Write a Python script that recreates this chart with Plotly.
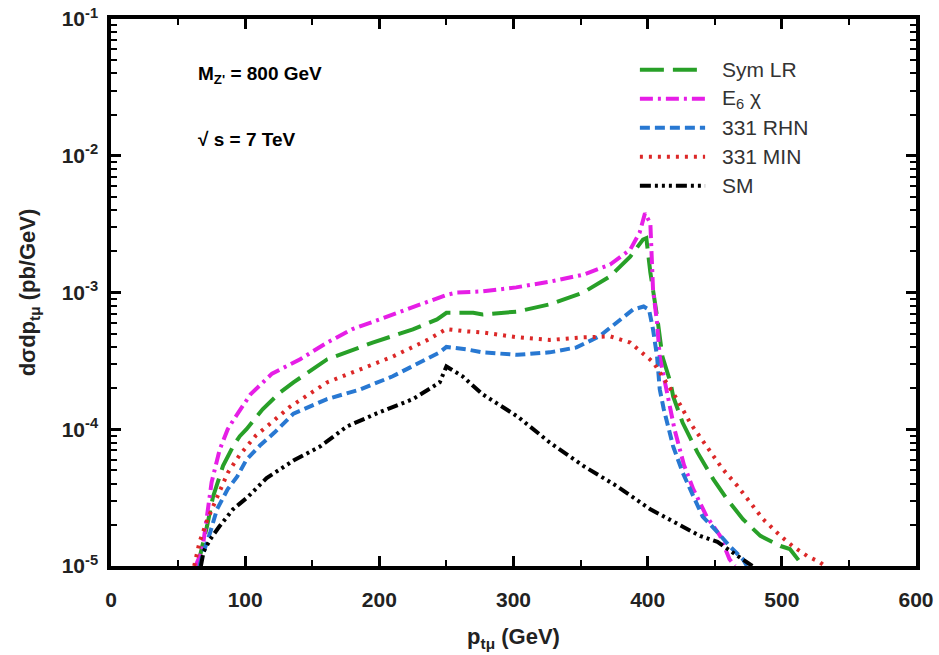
import plotly.graph_objects as go

# ---- data ----
e6_x = [63, 68, 72, 75, 81, 87, 92, 104, 120, 141, 161, 180, 200, 220, 240, 250, 258, 277, 302, 327, 352, 372, 387, 394, 398, 402, 404, 407, 409, 414, 420, 427, 434, 444, 454, 461, 465]
e6_y = [1e-5, 1.3e-5, 2.5e-5, 4.1e-5, 7.1e-5, 1.0e-4, 1.2e-4, 1.8e-4, 2.55e-4, 3.25e-4, 4.3e-4, 5.4e-4, 6.35e-4, 7.5e-4, 8.9e-4, 9.6e-4, 1.0e-3, 1.02e-3, 1.09e-3, 1.2e-3, 1.35e-3, 1.6e-3, 2.06e-3, 2.74e-3, 3.8e-3, 3.2e-3, 1.05e-3, 6.0e-4, 3.4e-4, 1.96e-4, 1.0e-4, 5.5e-5, 3.65e-5, 2.3e-5, 1.66e-5, 1.12e-5, 1e-5]

lr_x = [65, 66.3, 71.6, 76, 83.5, 91, 96, 101, 113, 126, 136, 161, 195, 225, 243, 250, 270, 277, 303, 327, 352, 372, 387, 396.5, 399, 402, 407, 411, 417, 419, 426, 437, 449, 459, 471, 484, 499, 506, 513.5, 516]
lr_y = [1e-5, 1.18e-5, 1.96e-5, 3.2e-5, 5.4e-5, 7.5e-5, 8.9e-5, 1.0e-4, 1.4e-4, 1.86e-4, 2.2e-4, 3.24e-4, 4.3e-4, 5.37e-4, 6.35e-4, 7.1e-4, 7.1e-4, 6.9e-4, 7.26e-4, 8.2e-4, 1.0e-3, 1.31e-3, 1.83e-3, 2.44e-3, 2.5e-3, 1.4e-3, 6.7e-4, 3.4e-4, 2.2e-4, 1.74e-4, 1.12e-4, 6.8e-5, 4.3e-5, 3.1e-5, 2.2e-5, 1.66e-5, 1.4e-5, 1.33e-5, 1.07e-5, 1e-5]

rhn_x = [66, 68, 74, 79, 87, 94, 101, 111, 122, 136, 161, 186, 210, 230, 245, 250, 265, 277, 303, 327, 347, 364, 377, 389, 397, 401, 404, 407, 409, 412, 419, 426, 434, 441, 452, 461, 471, 474]
rhn_y = [1e-5, 1.18e-5, 1.77e-5, 2.6e-5, 3.65e-5, 4.5e-5, 6.0e-5, 7.6e-5, 9.5e-5, 1.3e-4, 1.66e-4, 1.96e-4, 2.44e-4, 3.1e-4, 3.65e-4, 4.0e-4, 3.84e-4, 3.65e-4, 3.5e-4, 3.65e-4, 3.97e-4, 4.78e-4, 6.0e-4, 7.5e-4, 7.9e-4, 7.5e-4, 5.37e-4, 3.4e-4, 1.96e-4, 1.4e-4, 7.5e-5, 4.85e-5, 3.24e-5, 2.3e-5, 1.77e-5, 1.4e-5, 1.12e-5, 1e-5]

min_x = [62, 66, 72, 79, 87, 96, 108, 121, 133, 161, 186, 210, 236, 247, 250, 265, 277, 303, 327, 352, 372, 387, 396, 404, 411, 422, 432, 446, 456, 467, 476, 486, 499, 508, 519, 528, 532]
min_y = [1e-5, 1.5e-5, 2.2e-5, 3.2e-5, 4.8e-5, 6.5e-5, 9.0e-5, 1.15e-4, 1.45e-4, 2.2e-4, 2.74e-4, 3.4e-4, 4.5e-4, 5.2e-4, 5.4e-4, 5.2e-4, 5.1e-4, 4.7e-4, 4.5e-4, 4.7e-4, 4.78e-4, 4.3e-4, 3.65e-4, 3.1e-4, 2.44e-4, 1.65e-4, 1.1e-4, 7.1e-5, 5.1e-5, 3.84e-5, 2.93e-5, 2.2e-5, 1.66e-5, 1.4e-5, 1.18e-5, 1.07e-5, 1e-5]

sm_x = [67, 69, 74, 81, 91, 102, 116, 128, 136, 156, 176, 200, 225, 245, 250, 262, 277, 303, 327, 352, 377, 402, 426, 439, 452, 467, 478]
sm_y = [1e-5, 1.27e-5, 1.57e-5, 1.96e-5, 2.6e-5, 3.2e-5, 4.4e-5, 5.3e-5, 5.9e-5, 7.5e-5, 1.05e-4, 1.33e-4, 1.66e-4, 2.2e-4, 2.88e-4, 2.44e-4, 1.8e-4, 1.24e-4, 8.0e-5, 5.4e-5, 3.84e-5, 2.6e-5, 1.96e-5, 1.66e-5, 1.5e-5, 1.18e-5, 1e-5]

series_names = ["Sym LR", "E<sub>6</sub> χ", "331 RHN", "331 MIN", "SM"]
x_ticks = [0, 100, 200, 300, 400, 500, 600]
x_ticktext = ["0", "100", "200", "300", "400", "500", "600"]
y_ticks = [1e-5, 1e-4, 1e-3, 1e-2, 1e-1]
y_ticktext = ["10<sup>-5</sup>", "10<sup>-4</sup>", "10<sup>-3</sup>", "10<sup>-2</sup>", "10<sup>-1</sup>"]

# ---- styles ----
styles = [
    dict(color="rgb(40,160,40)", dash="24px,9px"),
    dict(color="rgb(230,30,230)", dash="13px,5px,3px,5px"),
    dict(color="rgb(40,120,210)", dash="10px,5px"),
    dict(color="rgb(220,40,40)", dash="3px,6px"),
    dict(color="black", dash="11px,4px,3px,4px,3px,4px,3px,4px"),
]
data = [(lr_x, lr_y), (e6_x, e6_y), (rhn_x, rhn_y), (min_x, min_y), (sm_x, sm_y)]

FONT = "Liberation Sans, Arial, sans-serif"
fig = go.Figure()
for (xs, ys), st, nm in zip(data, styles, series_names):
    fig.add_trace(go.Scatter(x=xs, y=ys, mode="lines", name=nm, showlegend=False,
                             line=dict(color=st["color"], dash=st["dash"], width=4)))

# manual legend (line samples + labels, paper coordinates)
leg_y = [0.907, 0.854, 0.801, 0.748, 0.695]
for st, nm, yy in zip(styles, series_names, leg_y):
    fig.add_shape(type="line", xref="paper", yref="paper", x0=0.657, x1=0.738, y0=yy, y1=yy,
                  line=dict(color=st["color"], dash=st["dash"], width=4))
    fig.add_annotation(xref="paper", yref="paper", x=0.756, y=yy, text=nm, showarrow=False,
                       xanchor="left", yanchor="middle",
                       font=dict(family=FONT, size=21, color="#333"))

fig.add_annotation(xref="paper", yref="paper", x=0.105, y=0.898, text="M<sub>Z'</sub> = 800 GeV",
                   showarrow=False, xanchor="left", yanchor="middle",
                   font=dict(family=FONT, size=19, color="black", weight="bold"))
fig.add_annotation(xref="paper", yref="paper", x=0.105, y=0.779, text="√ s = 7 TeV",
                   showarrow=False, xanchor="left", yanchor="middle",
                   font=dict(family=FONT, size=19, color="black", weight="bold"))

axis_common = dict(showline=True, linecolor="black", linewidth=3.5, mirror="allticks",
                   ticks="inside", tickcolor="black", tickwidth=2.5, ticklen=10,
                   showgrid=False, zeroline=False, automargin=False, ticklabeloverflow="allow",
                   tickfont=dict(family=FONT, size=21, color="#222", weight="bold"))

fig.update_xaxes(range=[0, 600], tickvals=x_ticks, ticktext=x_ticktext, ticklabelstandoff=12,
                 minor=dict(ticks="inside", dtick=50, ticklen=6, tickcolor="black", tickwidth=2, showgrid=False),
                 title=dict(text="p<sub>tμ</sub> (GeV)", standoff=20,
                            font=dict(family=FONT, size=22, color="#222", weight="bold")),
                 **axis_common)
fig.update_yaxes(type="log", range=[-5, -1], tickvals=y_ticks, ticktext=y_ticktext, ticklabelstandoff=5,
                 minor=dict(ticks="inside", dtick="D1", ticklen=6, tickcolor="black", tickwidth=1.5, showgrid=False),
                 title=dict(text="dσdp<sub>tμ</sub> (pb/GeV)", standoff=21,
                            font=dict(family=FONT, size=22, color="#222", weight="bold")),
                 **axis_common)

fig.update_layout(width=939, height=655, margin=dict(l=111, r=23, t=19, b=89),
                  plot_bgcolor="white", paper_bgcolor="white", showlegend=False)

# remove the page's default body margin so the figure fills the window exactly
fig.write_html("out.html", config={"displayModeBar": False},
               post_script="document.body.style.margin='0';document.body.style.overflow='hidden';")
